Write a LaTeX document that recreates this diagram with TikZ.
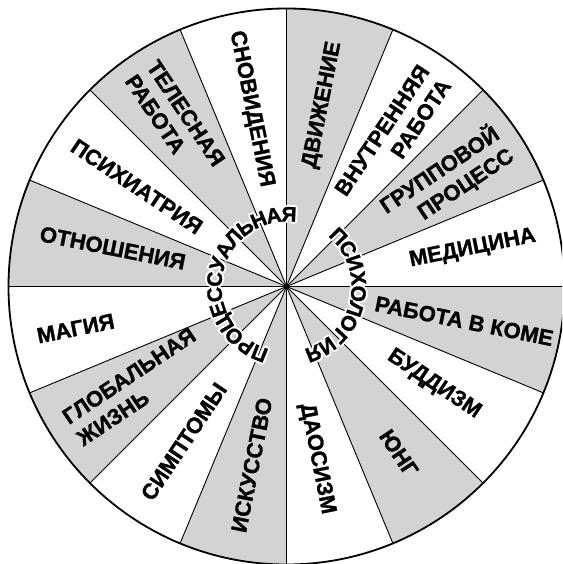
\documentclass[tikz,border=0pt]{standalone}
\usepackage{fontspec}
\setmainfont[BoldFeatures={FakeBold=1.3}]{Liberation Sans}
\usetikzlibrary{calc}
\definecolor{sect}{RGB}{209,211,212}
\begin{document}
\begin{tikzpicture}[x=1pt,y=1pt,
  lab/.style={font=\fontsize{22}{26}\selectfont\bfseries, inner sep=0pt},
  arcch/.style={font=\fontsize{21}{21}\selectfont\bfseries, inner sep=0pt, anchor=base},
  spoke/.style={line width=0.9pt, black},
  rim/.style={line width=1.8pt, black}
]
\useasboundingbox (-286.5,-277.5) rectangle (275.5,286.5);
\clip (-286.5,-277.5) rectangle (275.5,286.5);
\fill[white] (-286.5,-277.5) rectangle (275.5,286.5);
\coordinate (O) at (0,0);
% grey sectors
\foreach \k in {0,2,...,14} {
  \fill[sect] (O) -- (90-\k*22.5:278) arc[start angle=90-\k*22.5, end angle=67.5-\k*22.5, radius=278] -- cycle;
}
% labels
\node[lab, rotate=78.75] (l1) at (78.75:185) {ДВИЖЕНИЕ};
\node[lab, rotate=-78.75] (l2) at (101.25:181) {СНОВИДЕНИЯ};
\node[lab, rotate=-56.25, anchor=west, align=left] (l3) at (123.8:261) {ТЕЛЕСНАЯ\\РАБОТА};
\node[lab, rotate=-33.75] (l4) at (146.25:180) {ПСИХИАТРИЯ};
\node[lab, rotate=-11.25] (l5) at (167.5:178) {ОТНОШЕНИЯ};
\node[lab, rotate=11.25] (l6) at (191.25:215) {МАГИЯ};
\node[lab, rotate=33.75, anchor=west, align=left] (l7) at (213.7:258) {ГЛОБАЛЬНАЯ\\ЖИЗНЬ};
\node[lab, rotate=56.25] (l8) at (236.5:186) {СИМПТОМЫ};
\node[lab, rotate=78.75] (l9) at (259:182) {ИСКУССТВО};
\node[lab, rotate=-78.75] (l10) at (280:175) {ДАОСИЗМ};
\node[lab, rotate=-56.25] (l11) at (304:201) {ЮНГ};
\node[lab, rotate=-33.75] (l12) at (326.5:177) {БУДДИЗМ};
\node[lab, rotate=-11.25] (l13) at (349:181) {РАБОТА В КОМЕ};
\node[lab, rotate=11.25] (l14) at (11.5:190) {МЕДИЦИНА};
\node[lab, rotate=33.75, anchor=east, align=right] (l15) at (33.6:261) {ГРУППОВОЙ\\ПРОЦЕСС};
\node[lab, rotate=56.25, anchor=east, align=right] (l16) at (55:259) {ВНУТРЕННЯЯ\\РАБОТА};
% spokes and rim
\foreach \k in {0,...,15} {
  \draw[spoke] (O) -- (\k*22.5:278);
}
\draw[rim] (O) circle[radius=278];
\fill (O) circle[radius=2.6];
% curved texts with white halo
\foreach \c [count=\i] in {П,Р,О,Ц,Е,С,С,У,А,Л,Ь,Н,А,Я} {
  \pgfmathsetmacro\ang{248-(\i-1)*160/13}
  \foreach \d in {0,30,...,330}
    \node[arcch, white, rotate=\ang-90] at ($(\ang:65)+(\d:2)$) {\c};
}
\foreach \c [count=\i] in {П,С,И,Х,О,Л,О,Г,И,Я} {
  \pgfmathsetmacro\ang{44-(\i-1)*112/9}
  \foreach \d in {0,30,...,330}
    \node[arcch, white, rotate=\ang-90] at ($(\ang:65)+(\d:2)$) {\c};
}
\foreach \c [count=\i] in {П,Р,О,Ц,Е,С,С,У,А,Л,Ь,Н,А,Я} {
  \pgfmathsetmacro\ang{248-(\i-1)*160/13}
  \node[arcch, rotate=\ang-90] (p\i) at (\ang:65) {\c};
}
\foreach \c [count=\i] in {П,С,И,Х,О,Л,О,Г,И,Я} {
  \pgfmathsetmacro\ang{44-(\i-1)*112/9}
  \node[arcch, rotate=\ang-90] (q\i) at (\ang:65) {\c};
}
\end{tikzpicture}
\end{document}
